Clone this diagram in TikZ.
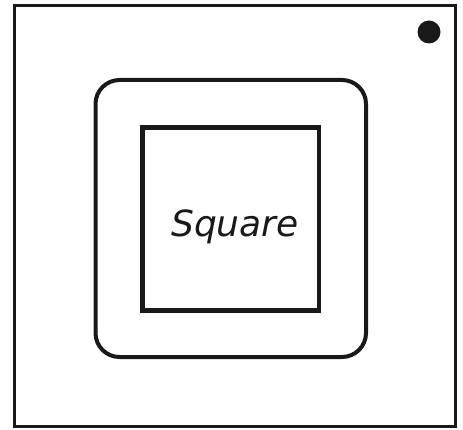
\documentclass[tikz,border=0pt]{standalone}
\usepackage{fontspec}
\newfontfamily\labelfont{DejaVu Sans}
\begin{document}
\begin{tikzpicture}[x=1pt,y=-1pt,
  frame/.style={draw=black!90,line width=3pt},
  ring/.style={draw=black!90,line width=4pt,rounded corners=24pt},
  core/.style={draw=black!90,line width=4.5pt},
  marker/.style={fill=black!90,circle,inner sep=0pt,minimum size=23pt},
  caption/.style={font=\labelfont\itshape\fontsize{36}{40}\selectfont,text=black!90,anchor=base,inner sep=0pt}]
\useasboundingbox (0,0) rectangle (463,430);
\draw[frame] (14,6) rectangle (455,426);
\node[marker] (dot) at (429,32) {};
\draw[ring] (95.5,80) rectangle (366,357);
\draw[core] (142.5,127.5) rectangle (319,310.5);
\node[caption] (label) at (235,237) {Square};
\end{tikzpicture}
\end{document}
